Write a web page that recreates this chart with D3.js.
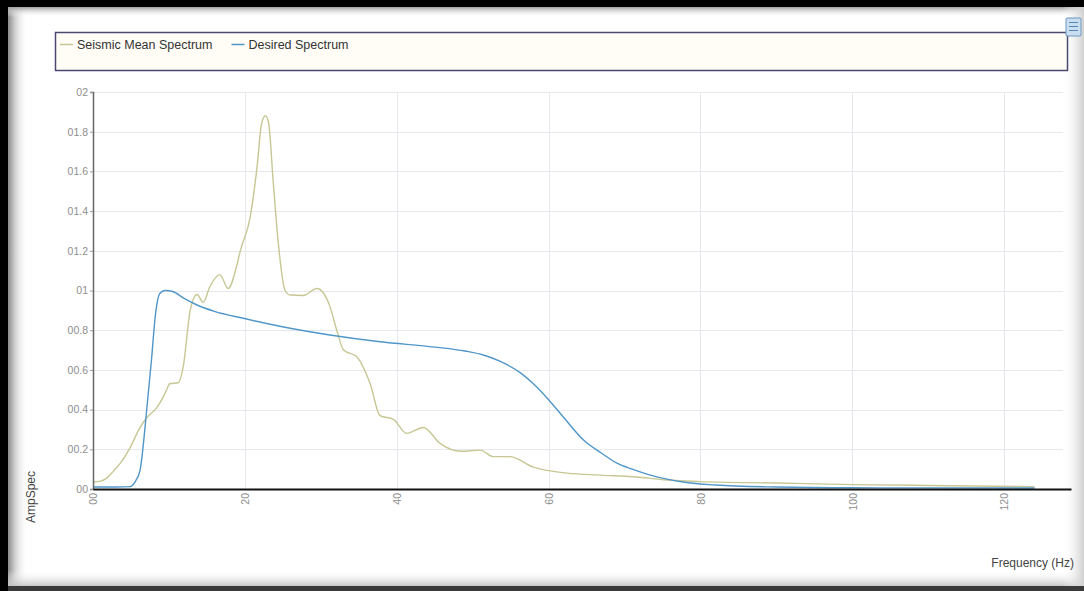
<!DOCTYPE html>
<html>
<head>
<meta charset="utf-8">
<script src="https://cdn.jsdelivr.net/npm/d3@7"></script>
<style>
  html, body { margin: 0; padding: 0; background: #000; }
  svg { display: block; }
  text { font-family: "Liberation Sans Narrow", "Liberation Sans", Arial, sans-serif; }
</style>
</head>
<body>
<svg id="chart" width="1084" height="591"></svg>
<script>
// Seismic mean amplitude spectrum (frequency in Hz, amplitude)
const seismicFreq = [0, 1, 1.8, 2.7, 3.6, 4.9, 6.2, 7.1, 8.4, 9.2, 9.7, 10.1, 11.2, 11.9, 12.8, 13.7, 14.5, 15.4, 16.7, 17.8, 18.9, 19.4, 20.7, 21.6, 22.2, 22.7, 23.1, 23.75, 24.4, 25.3, 25.95, 27.7, 29.5, 30.3, 31.2, 32.1, 33, 34.7, 36.5, 37.8, 39.6, 41.3, 43.5, 45.7, 48.4, 51, 52.7, 54.9, 58, 62.4, 66.8, 71.2, 75.6, 80, 90, 100, 110, 124];
const seismicAmp = [0.035, 0.04, 0.055, 0.09, 0.13, 0.21, 0.31, 0.36, 0.41, 0.46, 0.50, 0.53, 0.535, 0.62, 0.90, 0.98, 0.94, 1.02, 1.08, 1.01, 1.12, 1.20, 1.37, 1.62, 1.84, 1.88, 1.85, 1.54, 1.24, 1.00, 0.977, 0.975, 1.01, 0.99, 0.92, 0.80, 0.70, 0.667, 0.53, 0.37, 0.35, 0.28, 0.31, 0.23, 0.19, 0.196, 0.163, 0.163, 0.11, 0.08, 0.07, 0.062, 0.045, 0.037, 0.03, 0.022, 0.018, 0.012];

// Desired (target) spectrum
const desiredFreq = [0, 3, 4.9, 5.6, 6.2, 7.1, 7.7, 8.2, 8.8, 9.5, 10.5, 12, 13.7, 16, 19.8, 24.6, 31.2, 37.8, 45, 49, 51.4, 53.5, 56.3, 58, 60, 62, 64.6, 67, 69, 71, 73.4, 77.7, 82, 90, 100, 124];
const desiredAmp = [0.01, 0.01, 0.012, 0.04, 0.095, 0.41, 0.65, 0.87, 0.985, 1.0, 0.995, 0.96, 0.927, 0.895, 0.86, 0.82, 0.776, 0.742, 0.715, 0.695, 0.675, 0.645, 0.585, 0.53, 0.45, 0.36, 0.247, 0.18, 0.13, 0.10, 0.07, 0.035, 0.02, 0.01, 0.006, 0.005];

const xTicks = [0, 20, 40, 60, 80, 100, 120];
const xTickLabels = ["00", "20", "40", "60", "80", "100", "120"];
const yTicks = [0, 0.2, 0.4, 0.6, 0.8, 1, 1.2, 1.4, 1.6, 1.8, 2];
const yTickLabels = ["00", "00.2", "00.4", "00.6", "00.8", "01", "01.2", "01.4", "01.6", "01.8", "02"];

const seriesNames = ["Seismic Mean Spectrum", "Desired Spectrum"];
const seriesColors = ["#c7c794", "#5096c9"];

const svg = d3.select("#chart");
const W = 1084, H = 591;

// ---- panel frame with soft inner shading ----
const defs = svg.append("defs");
function grad(id, x1, y1, x2, y2, stops) {
  const g = defs.append("linearGradient").attr("id", id)
    .attr("x1", x1).attr("y1", y1).attr("x2", x2).attr("y2", y2);
  stops.forEach(s => g.append("stop").attr("offset", s[0]).attr("stop-color", s[1]).attr("stop-opacity", s[2]));
}
grad("gLeft", 0, 0, 1, 0, [[0, "#8c8c8c", 1], [0.35, "#d0d0d0", 1], [1, "#ffffff", 0]]);
grad("gTop", 0, 0, 0, 1, [[0, "#a0a0a0", 1], [1, "#ffffff", 0]]);
grad("gBottom", 0, 0, 0, 1, [[0, "#ffffff", 0], [1, "#c0c0c0", 1]]);
grad("gRight", 0, 0, 1, 0, [[0, "#ffffff", 0], [1, "#d0d0d0", 1]]);

svg.append("rect").attr("width", W).attr("height", H).attr("fill", "#000");
svg.append("rect").attr("x", 8).attr("y", 7).attr("width", W - 8).attr("height", 580).attr("fill", "#fff");
svg.append("rect").attr("x", 8).attr("y", 7).attr("width", 20).attr("height", 580).attr("fill", "url(#gLeft)");
svg.append("rect").attr("x", 8).attr("y", 7).attr("width", W - 8).attr("height", 10).attr("fill", "url(#gTop)");
svg.append("rect").attr("x", 8).attr("y", 570).attr("width", W - 8).attr("height", 17).attr("fill", "url(#gBottom)");
svg.append("rect").attr("x", 1062).attr("y", 7).attr("width", 22).attr("height", 580).attr("fill", "url(#gRight)");
svg.append("rect").attr("x", 8).attr("y", 586).attr("width", W - 8).attr("height", 5).attr("fill", "#3a3a3a");

// ---- scales ----
const x = d3.scaleLinear().domain([0, 128.8]).range([93, 1071]);
const y = d3.scaleLinear().domain([0, 2]).range([489, 92]);
const gridRight = 1063;

// ---- grid ----
const grid = svg.append("g");
grid.selectAll("line.h").data(yTicks.slice(1)).join("line")
  .attr("x1", x(0)).attr("x2", gridRight)
  .attr("y1", d => Math.round(y(d)) + 0.5).attr("y2", d => Math.round(y(d)) + 0.5)
  .attr("stroke", "#e8e8ec").attr("stroke-width", 1);
grid.selectAll("line.v").data(xTicks.slice(1)).join("line")
  .attr("x1", d => Math.round(x(d)) + 0.5).attr("x2", d => Math.round(x(d)) + 0.5)
  .attr("y1", y(2)).attr("y2", y(0))
  .attr("stroke", "#e8e8ec").attr("stroke-width", 1);

// ---- series ----
const line = d3.line().x(d => x(d[0])).y(d => y(d[1])).curve(d3.curveMonotoneX);
const seismic = seismicFreq.map((f, i) => [f, seismicAmp[i]]);
const desired = desiredFreq.map((f, i) => [f, desiredAmp[i]]);
svg.append("path").datum(seismic).attr("d", line)
  .attr("fill", "none").attr("stroke", seriesColors[0]).attr("stroke-width", 1.4);
svg.append("path").datum(desired).attr("d", line)
  .attr("fill", "none").attr("stroke", seriesColors[1]).attr("stroke-width", 1.4);

// ---- axes ----
const yAxis = d3.axisLeft(y).tickValues(yTicks)
  .tickFormat((d, i) => yTickLabels[i]).tickSize(3).tickPadding(2);
const gy = svg.append("g").attr("transform", `translate(${x(0)},0)`).call(yAxis);
gy.select(".domain").attr("stroke", "#666").attr("stroke-width", 1.5);
gy.selectAll(".tick line").attr("stroke", "#999");
gy.selectAll(".tick text").attr("fill", "#8e8e8e").attr("font-size", 10.5);

const xAxis = d3.axisBottom(x).tickValues(xTicks)
  .tickFormat((d, i) => xTickLabels[i]).tickSize(0).tickSizeOuter(0);
const gx = svg.append("g").attr("transform", `translate(0,${y(0)})`).call(xAxis);
gx.select(".domain").attr("stroke", "#111").attr("stroke-width", 2);
gx.selectAll(".tick text")
  .attr("fill", "#8e8e8e").attr("font-size", 10.5)
  .attr("text-anchor", "end").attr("dy", "0.35em")
  .attr("transform", "translate(0,4) rotate(-90)")
  .attr("x", 0).attr("y", 0);

// ---- axis titles ----
svg.append("text").attr("transform", "translate(35,497) rotate(-90)")
  .attr("text-anchor", "middle").attr("font-size", 12).attr("fill", "#444")
  .text("AmpSpec");
svg.append("text").attr("x", 1074).attr("y", 567)
  .attr("text-anchor", "end").attr("font-size", 12).attr("fill", "#444")
  .text("Frequency (Hz)");

// ---- legend ----
svg.append("rect").attr("x", 55.5).attr("y", 32.5).attr("width", 1012).attr("height", 38)
  .attr("fill", "#fffdf6").attr("stroke", "#4b4872").attr("stroke-width", 1.5);
const legend = svg.append("g");
let lx = 60;
seriesNames.forEach((name, i) => {
  legend.append("line").attr("x1", lx).attr("x2", lx + 13).attr("y1", 44.5).attr("y2", 44.5)
    .attr("stroke", seriesColors[i]).attr("stroke-width", 1.5);
  const t = legend.append("text").attr("x", lx + 17).attr("y", 48.5)
    .attr("font-size", 12.5).attr("fill", "#333").text(name);
  lx += 17 + t.node().getComputedTextLength() + 19;
});

// ---- small options icon at the top right ----
const icon = svg.append("g").attr("transform", "translate(1066,18)");
icon.append("rect").attr("width", 15).attr("height", 18).attr("rx", 1)
  .attr("fill", "#c9def0").attr("stroke", "#6d98bf");
[4, 8, 12].forEach(yy => icon.append("line").attr("x1", 3).attr("x2", 12)
  .attr("y1", yy + 0.5).attr("y2", yy + 0.5).attr("stroke", "#5a86b0"));
</script>
</body>
</html>
